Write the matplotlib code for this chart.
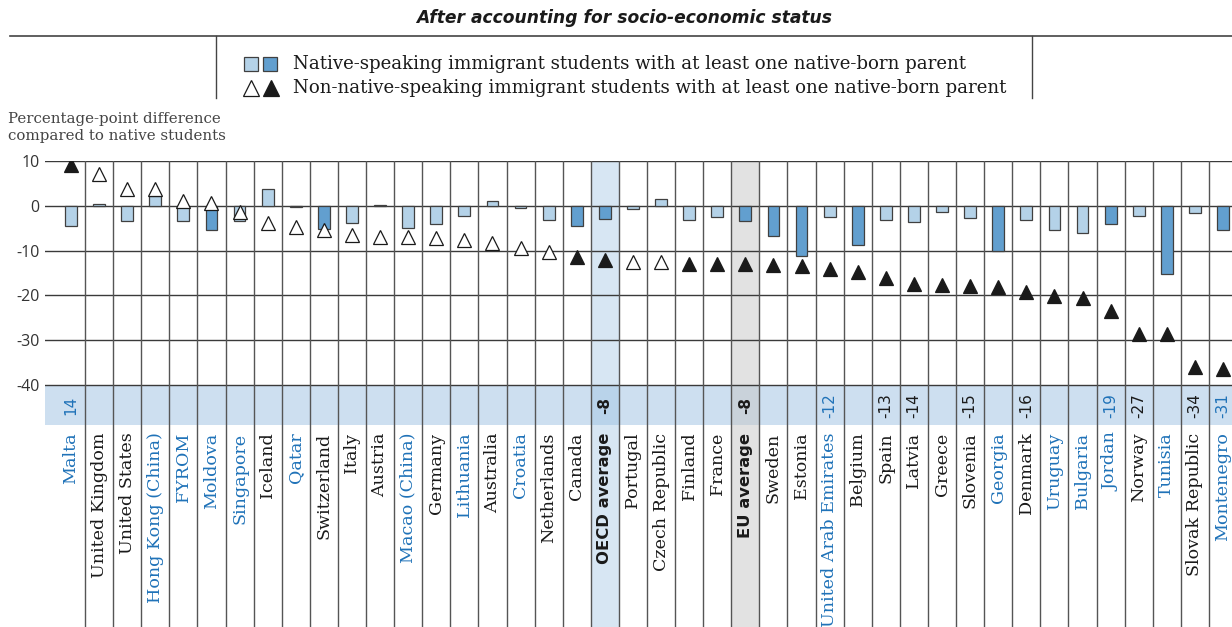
import matplotlib.pyplot as plt
import numpy as np

countries = ['Malta', 'United Kingdom', 'United States', 'Hong Kong (China)', 'FYROM', 'Moldova',
             'Singapore', 'Iceland', 'Qatar', 'Switzerland', 'Italy', 'Austria', 'Macao (China)',
             'Germany', 'Lithuania', 'Australia', 'Croatia', 'Netherlands', 'Canada', 'OECD average',
             'Portugal', 'Czech Republic', 'Finland', 'France', 'EU average', 'Sweden', 'Estonia',
             'United Arab Emirates', 'Belgium', 'Spain', 'Latvia', 'Greece', 'Slovenia', 'Georgia',
             'Denmark', 'Uruguay', 'Bulgaria', 'Jordan', 'Norway', 'Tunisia', 'Slovak Republic',
             'Montenegro']
partner = ['Malta', 'Hong Kong (China)', 'FYROM', 'Moldova', 'Singapore', 'Qatar', 'Macao (China)',
           'Lithuania', 'Croatia', 'United Arab Emirates', 'Georgia', 'Uruguay', 'Bulgaria',
           'Jordan', 'Tunisia', 'Montenegro']

# native-speaking immigrant students (bars)
native_speaking = [-4.5, 0.3, -3.4, 2.1, -3.4, -5.4, -3.5, 3.8, -0.3, -5.2, -3.9, 0.2, -5.0,
                   -4.0, -2.2, 1.1, -0.5, -3.1, -4.6, -3.0, -0.7, 1.6, -3.1, -2.5, -3.5, -6.7,
                   -11.2, -2.6, -8.8, -3.2, -3.7, -1.3, -2.8, -10.0, -3.1, -5.5, -6.1, -4.1,
                   -2.2, -15.3, -1.6, -5.5]
native_sig = [0, 0, 0, 0, 0, 1, 0, 0, 0, 1, 0, 0, 0, 0, 0, 0, 0, 0, 1, 1, 0, 0, 0, 0, 1, 1,
              1, 0, 1, 0, 0, 0, 0, 1, 0, 0, 0, 1, 0, 1, 0, 1]

# non-native-speaking immigrant students (triangles)
non_native = [9.2, 7.1, 3.8, 3.7, 1.0, 0.7, -1.3, -3.8, -4.7, -5.5, -6.5, -7.0, -7.0, -7.2,
              -7.7, -8.3, -9.4, -10.2, -11.5, -12.2, -12.6, -12.6, -12.9, -12.9, -12.9, -13.1,
              -13.5, -14.1, -14.7, -16.1, -17.4, -17.6, -17.9, -18.2, -19.3, -20.2, -20.5,
              -23.4, -28.6, -28.6, -35.9, -36.5]
non_native_sig = [1, 0, 0, 0, 0, 0, 0, 0, 0, 0, 0, 0, 0, 0, 0, 0, 0, 0, 1, 1, 0, 0, 1, 1, 1, 1,
                  1, 1, 1, 1, 1, 1, 1, 1, 1, 1, 1, 1, 1, 1, 1, 1]

band_values = {'Malta': '14', 'OECD average': '-8', 'EU average': '-8',
               'United Arab Emirates': '-12', 'Spain': '-13', 'Latvia': '-14',
               'Slovenia': '-15', 'Denmark': '-16', 'Jordan': '-19', 'Norway': '-27',
               'Slovak Republic': '-34', 'Montenegro': '-31'}

blue_txt = '#1f72b8'
light = '#b4d2e8'
dark = '#629fcf'
serif = 'DejaVu Serif'

fig = plt.figure(figsize=(12.32, 6.27), dpi=100)
ax = fig.add_axes([45 / 1232, 0, 1 - 45 / 1232, 1 - 161 / 627])
ax.set_xlim(-0.925, 41.32)
ax.set_ylim(-94, 10)
for s in ax.spines.values():
    s.set_visible(False)
ax.set_xticks([])
ax.set_yticks([10, 0, -10, -20, -30, -40])
ax.set_yticklabels(['10', '0', '-10', '-20', '-30', '-40'], fontsize=11.5, color='#333333',
                   family='Open Sans')
ax.tick_params(axis='y', length=0, pad=4)

x = np.arange(len(countries))
i_oecd = countries.index('OECD average')
i_eu = countries.index('EU average')

# highlighted columns
ax.axvspan(i_oecd - 0.5, i_oecd + 0.5, color='#d7e6f3', zorder=0, lw=0)
ax.axvspan(i_eu - 0.5, i_eu + 0.5, color='#e2e2e2', zorder=0, lw=0)
# band with values
ax.axhspan(-49, -40, color='#cddff0', zorder=0.5, lw=0)
ax.fill_between([i_oecd - 0.5, i_oecd + 0.5], -49, -40, color='#b9d3ea', zorder=0.6, lw=0)
ax.fill_between([i_eu - 0.5, i_eu + 0.5], -49, -40, color='#c9d2da', zorder=0.6, lw=0)

for yv in [10, 0, -10, -20, -30, -40]:
    ax.axhline(yv, color='#3a3a3a', lw=1, zorder=1)
for xv in x[:-1] + 0.5:
    ax.plot([xv, xv], [-94, 10], color='#555555', lw=1, zorder=1)

bar_colors = [dark if s else light for s in native_sig]
ax.bar(x, native_speaking, width=0.42, color=bar_colors, edgecolor='#404040', lw=0.9, zorder=3)

for xi, yi, s in zip(x, non_native, non_native_sig):
    ax.plot(xi, yi, marker='^', ms=9.5, mfc='#1a1a1a' if s else 'white', mec='#1a1a1a',
            mew=0.9, zorder=4)

for xi, c in zip(x, countries):
    col = blue_txt if c in partner else '#1a1a1a'
    bold = c in ('OECD average', 'EU average')
    ax.text(xi, -50.6, c, rotation=90, ha='center', va='top', fontsize=11.8 if bold else 12.6,
            color=col, family='DejaVu Sans' if bold else serif,
            fontweight='bold' if bold else 'normal')
    if c in band_values:
        ax.text(xi, -44.5, band_values[c], rotation=90, ha='center', va='center', fontsize=11,
                color=col, family='DejaVu Sans', fontweight='bold' if bold else 'normal')

# title and legend area
fig.text(624 / 1232, 1 - 18 / 627, 'After accounting for socio-economic status', ha='center',
         va='center', fontsize=12.3, fontstyle='italic', fontweight='bold', color='#1a1a1a',
         family='DejaVu Sans')
fig.add_artist(plt.Line2D([10 / 1232, 1], [1 - 36 / 627] * 2, color='#444444', lw=1.2))
for lx in [216, 1032]:
    fig.add_artist(plt.Line2D([lx / 1232] * 2, [1 - 36 / 627, 1 - 98 / 627], color='#444444', lw=1))

fig.patches.append(plt.Rectangle((244 / 1232, 1 - 71 / 627), 14 / 1232, 14 / 627,
                                 transform=fig.transFigure, fc=light, ec='#404040', lw=0.9))
fig.patches.append(plt.Rectangle((263 / 1232, 1 - 71 / 627), 14 / 1232, 14 / 627,
                                 transform=fig.transFigure, fc=dark, ec='#404040', lw=0.9))
fig.add_artist(plt.Line2D([251 / 1232], [1 - 88 / 627], marker='^', ms=11, mfc='white',
                          mec='#1a1a1a', mew=0.9))
fig.add_artist(plt.Line2D([271 / 1232], [1 - 88 / 627], marker='^', ms=11, mfc='#1a1a1a',
                          mec='#1a1a1a', mew=0.9))
fig.text(293 / 1232, 1 - 64 / 627,
         'Native-speaking immigrant students with at least one native-born parent',
         ha='left', va='center', fontsize=13.1, family=serif, color='#1a1a1a')
fig.text(293 / 1232, 1 - 88 / 627,
         'Non-native-speaking immigrant students with at least one native-born parent',
         ha='left', va='center', fontsize=13.1, family=serif, color='#1a1a1a')

fig.text(8 / 1232, 1 - 127.5 / 627, 'Percentage-point difference\ncompared to native students',
         ha='left', va='center', fontsize=10.8, family=serif, color='#444444', linespacing=1.25)

fig.savefig('out.png', dpi=100)
